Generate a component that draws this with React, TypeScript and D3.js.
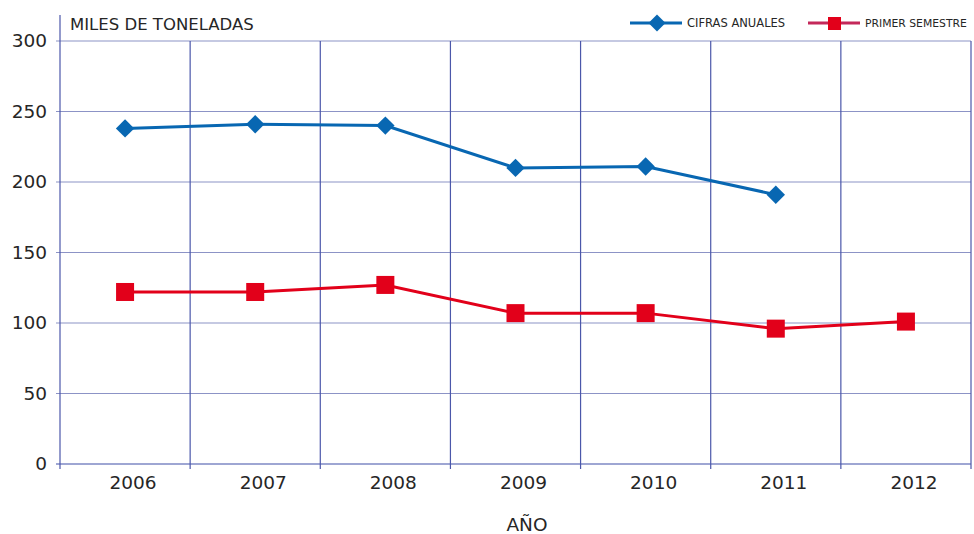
import React from "react";
import * as d3 from "d3";

const years = ["2006", "2007", "2008", "2009", "2010", "2011", "2012"];
const anuales: (number | null)[] = [238, 241, 240, 210, 211, 191, null];
const semestre: number[] = [122, 122, 127, 107, 107, 96, 101];
const yTicks = [0, 50, 100, 150, 200, 250, 300];

const W = 974, H = 534;
const L = 60, R = 971, T = 41, B = 464;
const FONT = "'DejaVu Sans', sans-serif";

export default function App() {
  const x = d3.scaleBand<string>().domain(years).range([L, R]).padding(0);
  const y = d3.scaleLinear().domain([0, 300]).range([B, T]);
  const cx = (yr: string) => (x(yr) as number) + x.bandwidth() / 2;

  const blueData = years.map((yr, i) => ({ yr, v: anuales[i] })).filter(d => d.v != null) as { yr: string; v: number }[];
  const redData = years.map((yr, i) => ({ yr, v: semestre[i] }));
  const line = d3.line<{ yr: string; v: number }>().x(d => cx(d.yr)).y(d => y(d.v));

  const blue = "#0867b2";
  const red = "#e2001a";
  const vBounds = years.map(yr => x(yr) as number).concat([R]);

  return (
    <svg width={W} height={H} style={{ position: "absolute", left: 0, top: 0, background: "#fff" }} fontFamily={FONT}>
      {/* horizontal grid */}
      {yTicks.map(t => (
        <g key={t}>
          <line x1={L - 4} x2={R} y1={y(t)} y2={y(t)} stroke={t === 0 ? "#3f4fa8" : "#8c93c6"} strokeWidth={1.2} />
          <text x={L - 13} y={y(t)} dy="0.35em" textAnchor="end" fontSize={18.5} fill="#262626">{t}</text>
        </g>
      ))}
      {/* vertical grid */}
      {vBounds.map((vx, i) => (
        <line key={i} x1={vx} x2={vx} y1={i === 0 ? 15 : T} y2={B + 5} stroke="#4b57aa" strokeWidth={1.2} />
      ))}
      {years.map(yr => (
        <text key={yr} x={cx(yr) + 8} y={489} textAnchor="middle" fontSize={18.5} fill="#262626">{yr}</text>
      ))}
      <text x={L + 10} y={30} fontSize={16.5} fill="#262626">MILES DE TONELADAS</text>
      <text x={527} y={531} textAnchor="middle" fontSize={18.5} fill="#262626">AÑO</text>

      {/* blue series */}
      <path d={line(blueData) || ""} fill="none" stroke={blue} strokeWidth={3} />
      {blueData.map(d => (
        <rect key={d.yr} x={cx(d.yr) - 6.5} y={y(d.v) - 6.5} width={13} height={13} fill={blue}
          transform={`rotate(45 ${cx(d.yr)} ${y(d.v)})`} />
      ))}
      {/* red series */}
      <path d={line(redData) || ""} fill="none" stroke={red} strokeWidth={3} />
      {redData.map(d => (
        <rect key={d.yr} x={cx(d.yr) - 9} y={y(d.v) - 9} width={18} height={18} fill={red} />
      ))}

      {/* legend */}
      <g>
        <line x1={630} x2={682} y1={23} y2={23} stroke={blue} strokeWidth={3} />
        <rect x={651} y={17} width={12} height={12} fill={blue} transform="rotate(45 657 23)" />
        <text x={687} y={23} dy="0.35em" fontSize={11.5} fill="#262626">CIFRAS ANUALES</text>
        <line x1={808} x2={860} y1={23} y2={23} stroke="#c4285a" strokeWidth={3} />
        <rect x={828} y={17} width={13} height={13} fill={red} />
        <text x={865} y={23} dy="0.35em" fontSize={10.8} fill="#262626">PRIMER SEMESTRE</text>
      </g>
    </svg>
  );
}
